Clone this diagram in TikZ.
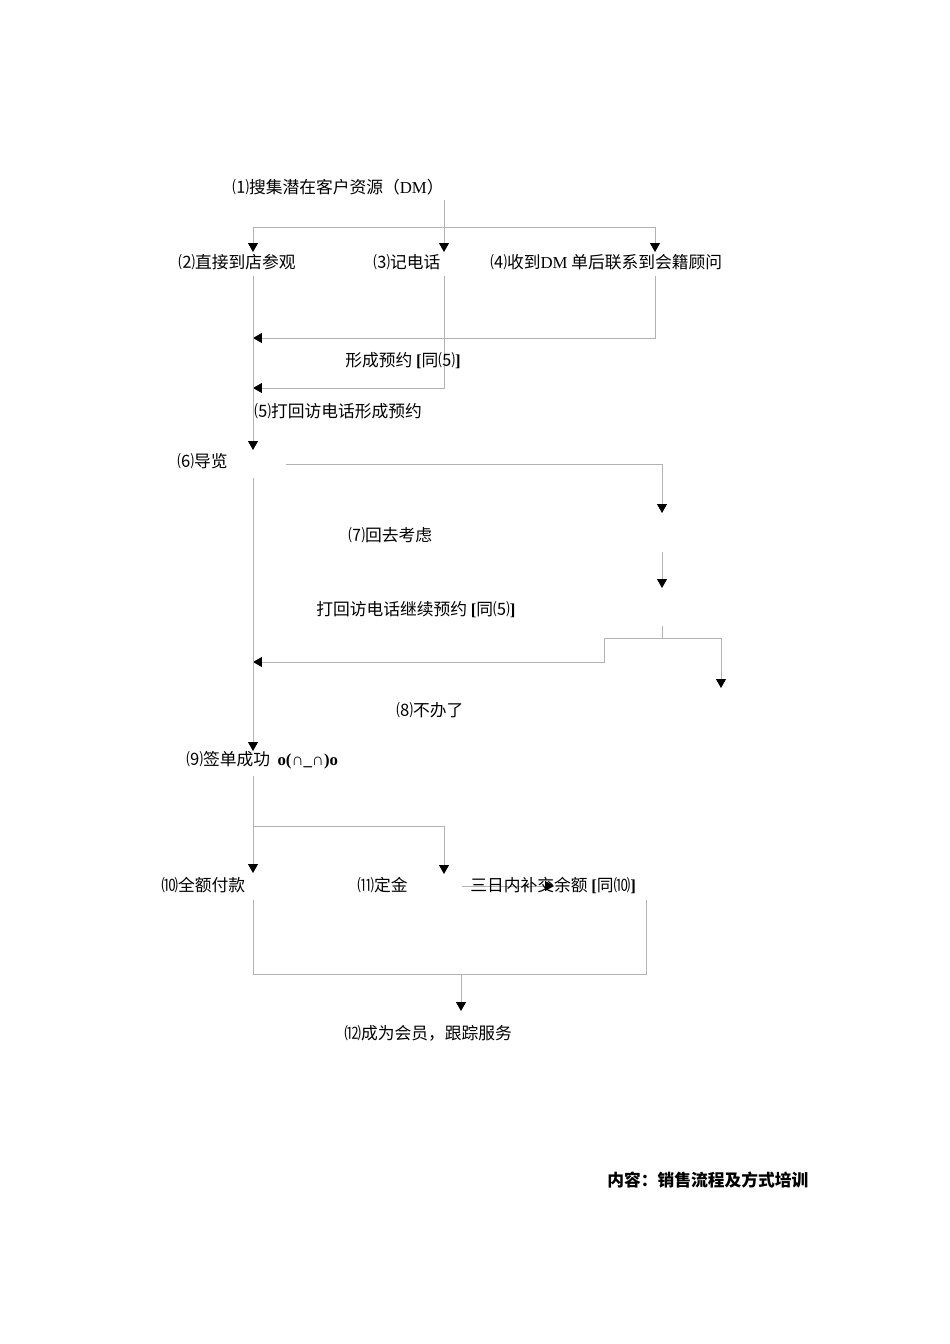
\documentclass[tikz,border=0pt]{standalone}
\usepackage{fontspec}
\setmainfont{Liberation Serif}
\newfontfamily\cjk{Noto Sans CJK SC}
\usetikzlibrary{arrows.meta}
\tikzset{
  link/.style={draw=gray!60, line width=0.5pt},
  flow/.style={link, -{Triangle[width=6.2pt,length=5.6pt,color=black]}},
  lbl/.style={anchor=west, inner sep=0pt, font=\cjk\fontsize{10.5pt}{12pt}\selectfont},
  foot/.style={lbl, font=\cjk\bfseries\fontsize{10.5pt}{12pt}\selectfont}
}
\newcommand{\lat}[1]{{\rmfamily #1}}
\newcommand{\same}[1]{{\rmfamily\bfseries[}同#1{\rmfamily\bfseries]}}

\begin{document}
\begin{tikzpicture}[x=0.6266pt, y=-0.6266pt]
    \useasboundingbox (0,0) rectangle (950,1344);

    % coordinates to be reused
    \coordinate (S1) at (444,200);   % below step 1
    \coordinate (J1) at (253,227);   % split row 1
    \coordinate (K1) at (655,227);
    \coordinate (A2) at (253,252);
    \coordinate (A3) at (444,252);
    \coordinate (A4) at (655,252);
    \coordinate (S2) at (253,276);
    \coordinate (S3) at (444,276);
    \coordinate (S4) at (655,276);
    \coordinate (B4) at (655,338);
    \coordinate (E4) at (253,338);
    \coordinate (B3) at (444,388);
    \coordinate (E3) at (253,388);
    \coordinate (A6) at (253,450);
    \coordinate (S6) at (286,464);
    \coordinate (K6) at (662,464);
    \coordinate (A7) at (662,513);
    \coordinate (S7) at (662,552);
    \coordinate (A7b) at (662,588);
    \coordinate (S7b) at (662,626);
    \coordinate (J7) at (662,638);
    \coordinate (L7) at (604,638);
    \coordinate (R7) at (721,638);
    \coordinate (M7) at (604,662);
    \coordinate (E7) at (253,662);
    \coordinate (A8) at (721,688);
    \coordinate (S6b) at (253,478);
    \coordinate (A9) at (253,751);
    \coordinate (S9) at (253,776);
    \coordinate (J9) at (253,826);
    \coordinate (K9) at (444,826);
    \coordinate (A10) at (253,873);
    \coordinate (A11) at (444,874);
    \coordinate (S11) at (462,886);
    \coordinate (E11) at (554,886);
    \coordinate (S10) at (253,900);
    \coordinate (S11b) at (646,900);
    \coordinate (B10) at (253,974);
    \coordinate (B11) at (646,974);
    \coordinate (J12) at (461,974);
    \coordinate (A12) at (461,1011);

    % draw figure
    \draw [flow] (S1) -- (A3);
    \draw [link] (J1) -- (K1);
    \draw [flow] (J1) -- (A2);
    \draw [flow] (K1) -- (A4);
    \draw [flow] (S4) -- (B4) -- (E4);
    \draw [flow] (S3) -- (B3) -- (E3);
    \draw [flow] (S2) -- (A6);
    \draw [link] (S6) -- (K6);
    \draw [flow] (K6) -- (A7);
    \draw [flow] (S7) -- (A7b);
    \draw [link] (S7b) -- (J7);
    \draw [link] (L7) -- (R7);
    \draw [flow] (L7) -- (M7) -- (E7);
    \draw [flow] (R7) -- (A8);
    \draw [flow] (S6b) -- (A9);
    \draw [flow] (S9) -- (A10);
    \draw [link] (J9) -- (K9);
    \draw [flow] (K9) -- (A11);
    \draw [flow] (S11) -- (E11);
    \draw [link] (S10) -- (B10) -- (B11) -- (S11b);
    \draw [flow] (J12) -- (A12);

    % add labels
    \node [lbl] (n1) at (232,187) {⑴搜集潜在客户资源（\lat{DM}）};
    \node [lbl] (n2) at (178,262) {⑵直接到店参观};
    \node [lbl] (n3) at (373,262) {⑶记电话};
    \node [lbl] (n4) at (490,262) {⑷收到\lat{DM} 单后联系到会籍顾问};
    \node [lbl] (n4a) at (345,361) {形成预约 \same{⑸}};
    \node [lbl] (n5) at (254,411) {⑸打回访电话形成预约};
    \node [lbl] (n6) at (177,461) {⑹导览};
    \node [lbl] (n7) at (348,535) {⑺回去考虑};
    \node [lbl] (n7a) at (316,610) {打回访电话继续预约 \same{⑸}};
    \node [lbl] (n8) at (396,710) {⑻不办了};
    \node [lbl] (n9) at (186,760) {⑼签单成功 \ \lat{\bfseries o(∩\_∩)o}};
    \node [lbl] (n10) at (161,885) {⑽全额付款};
    \node [lbl] (n11) at (357,885) {⑾定金};
    \node [lbl] (n11a) at (470,885) {三日内补交余额 \same{⑽}};
    \node [lbl] (n12) at (344,1033) {⑿成为会员，跟踪服务};
    \node [foot] (title) at (607,1180) {内容：销售流程及方式培训};
\end{tikzpicture}
\end{document}
